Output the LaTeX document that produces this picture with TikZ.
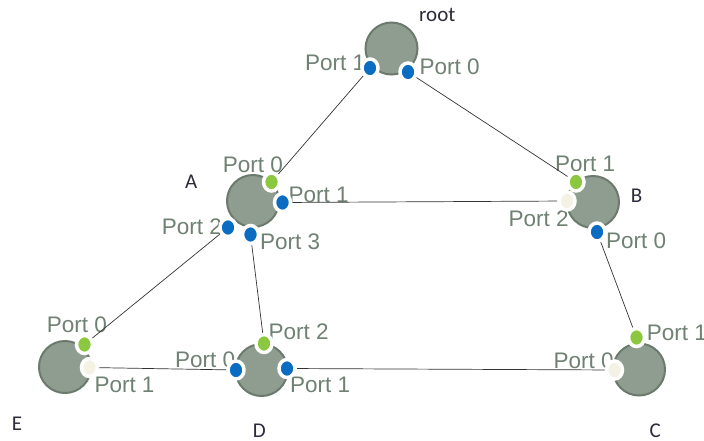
\documentclass[tikz,border=0pt]{standalone}
\usepackage{fontspec}
\setmainfont{Liberation Sans}
\newfontfamily\labfont{Carlito}
\usetikzlibrary{shapes.geometric}
\pgfdeclarelayer{front}
\pgfsetlayers{main,front}
\definecolor{nodefill}{HTML}{8E9D90}
\definecolor{nodeline}{HTML}{6B7A6D}
\definecolor{porttext}{HTML}{6F8172}
\definecolor{pblue}{HTML}{0A6DC2}
\definecolor{pgreen}{HTML}{8CC83F}
\definecolor{pcream}{HTML}{F4F2E4}
\definecolor{labtext}{HTML}{2A2A3A}
\definecolor{edgecol}{HTML}{333333}
\tikzset{
  sw/.style={circle, minimum size=52pt, inner sep=0pt, fill=nodefill, draw=nodeline, line width=2pt},
  port/.style={ellipse, minimum width=16pt, minimum height=18pt, inner sep=0pt, fill=#1, draw=white, line width=3.5pt},
  plab/.style={inner sep=0pt, text=porttext, font=\fontsize{22.5}{27}\selectfont},
  nlab/.style={inner sep=0pt, anchor=base west, text=labtext, font=\labfont\fontsize{21}{25}\selectfont},
  link/.style={draw=edgecol, line width=0.7pt}
}
\begin{document}
\begin{tikzpicture}[x=1pt,y=-1pt]
\path[use as bounding box] (0,0) rectangle (704,441);
% ports on front layer
\begin{pgfonlayer}{front}
\node[port=pblue]  (r1) at (370,68) {};
\node[port=pblue]  (r0) at (408,72) {};
\node[port=pgreen] (a0) at (271.5,182) {};
\node[port=pblue]  (a1) at (282.5,202.5) {};
\node[port=pblue]  (a2) at (228,227.5) {};
\node[port=pblue]  (a3) at (250.5,234.5) {};
\node[port=pgreen] (b1) at (576,182) {};
\node[port=pcream] (b2) at (567,201) {};
\node[port=pblue]  (b0) at (597,232) {};
\node[port=pgreen] (e0) at (84.5,344.5) {};
\node[port=pcream] (e1) at (89.5,367.5) {};
\node[port=pgreen] (d2) at (264,343.5) {};
\node[port=pblue]  (d0) at (236,370) {};
\node[port=pblue]  (d1) at (287,368.5) {};
\node[port=pgreen] (c1) at (636.5,337.5) {};
\node[port=pcream] (c0) at (614.5,370) {};
\end{pgfonlayer}
% switches
\node[sw] (root) at (391.5,48.5) {};
\node[sw] (A) at (253,201) {};
\node[sw] (B) at (593,202) {};
\node[sw] (E) at (65,367) {};
\node[sw] (D) at (261.5,370) {};
\node[sw] (C) at (639,369.5) {};
% switch labels
\node[nlab] (lroot) at (419,21.7) {root};
\node[nlab] (lA) at (185,188.3) {A};
\node[nlab] (lB) at (630.7,202.7) {B};
\node[nlab] (lE) at (11.7,430) {E};
\node[nlab] (lD) at (252.7,437.3) {D};
\node[nlab] (lC) at (649.3,437.3) {C};
% port labels
\node[plab, anchor=west] (tr1) at (305,63.3) {Port 1};
\node[plab, anchor=west] (tr0) at (419.3,66.7) {Port 0};
\node[plab, anchor=west] (ta0) at (222.7,165) {Port 0};
\node[plab, anchor=west] (ta1) at (288.3,195) {Port 1};
\node[plab, anchor=west] (ta2) at (161.7,226.7) {Port 2};
\node[plab, anchor=west] (ta3) at (260,241.7) {Port 3};
\node[plab, anchor=west] (tb1) at (555,163.8) {Port 1};
\node[plab, anchor=west] (tb2) at (508.3,218.7) {Port 2};
\node[plab, anchor=west] (tb0) at (606,240.5) {Port 0};
\node[plab, anchor=west] (te0) at (46.7,324.7) {Port 0};
\node[plab, anchor=west] (te1) at (94.3,384.7) {Port 1};
\node[plab, anchor=west] (td2) at (268.3,331.7) {Port 2};
\node[plab, anchor=west] (td0) at (175,360) {Port 0};
\node[plab, anchor=west] (td1) at (290,384.7) {Port 1};
\node[plab, anchor=west] (tc1) at (646.7,333.3) {Port 1};
\node[plab, anchor=west] (tc0) at (553.3,361) {Port 0};
% links
\draw[link] (r1) -- (a0);
\draw[link] (r0) -- (b1);
\draw[link] (a1) -- (b2);
\draw[link] (a2) -- (e0);
\draw[link] (a3) -- (d2);
\draw[link] (b0) -- (c1);
\draw[link] (d1) -- (c0);
\draw[link] (d0) -- (e1);
\end{tikzpicture}
\end{document}
